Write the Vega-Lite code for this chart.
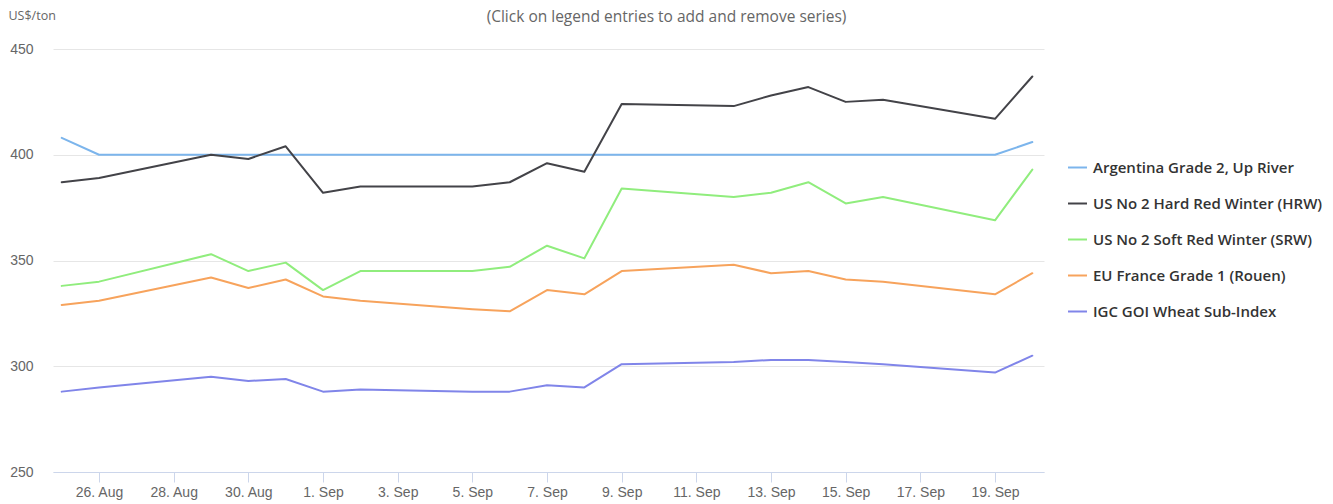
{
  "$schema": "https://vega.github.io/schema/vega-lite/v6.json",
  "width": 991,
  "height": 423,
  "autosize": {"type": "none"},
  "padding": {"left": 53, "top": 49, "right": 289, "bottom": 32},
  "background": "white",
  "config": {"view": {"stroke": null}, "font": "Liberation Sans"},
  "title": {
    "text": "(Click on legend entries to add and remove series)",
    "anchor": "middle",
    "dx": 118,
    "dy": 16,
    "offset": 0,
    "fontSize": 15.5,
    "fontWeight": "normal",
    "color": "#666666",
    "font": "Open Sans"
  },
  "data": {
    "values": [
      {"d": "2022-08-25", "s": "Argentina Grade 2, Up River", "v": 408},
      {"d": "2022-08-26", "s": "Argentina Grade 2, Up River", "v": 400},
      {"d": "2022-08-29", "s": "Argentina Grade 2, Up River", "v": 400},
      {"d": "2022-08-30", "s": "Argentina Grade 2, Up River", "v": 400},
      {"d": "2022-08-31", "s": "Argentina Grade 2, Up River", "v": 400},
      {"d": "2022-09-01", "s": "Argentina Grade 2, Up River", "v": 400},
      {"d": "2022-09-02", "s": "Argentina Grade 2, Up River", "v": 400},
      {"d": "2022-09-05", "s": "Argentina Grade 2, Up River", "v": 400},
      {"d": "2022-09-06", "s": "Argentina Grade 2, Up River", "v": 400},
      {"d": "2022-09-07", "s": "Argentina Grade 2, Up River", "v": 400},
      {"d": "2022-09-08", "s": "Argentina Grade 2, Up River", "v": 400},
      {"d": "2022-09-09", "s": "Argentina Grade 2, Up River", "v": 400},
      {"d": "2022-09-12", "s": "Argentina Grade 2, Up River", "v": 400},
      {"d": "2022-09-13", "s": "Argentina Grade 2, Up River", "v": 400},
      {"d": "2022-09-14", "s": "Argentina Grade 2, Up River", "v": 400},
      {"d": "2022-09-15", "s": "Argentina Grade 2, Up River", "v": 400},
      {"d": "2022-09-16", "s": "Argentina Grade 2, Up River", "v": 400},
      {"d": "2022-09-19", "s": "Argentina Grade 2, Up River", "v": 400},
      {"d": "2022-09-20", "s": "Argentina Grade 2, Up River", "v": 406},

      {"d": "2022-08-25", "s": "US No 2 Hard Red Winter (HRW)", "v": 387},
      {"d": "2022-08-26", "s": "US No 2 Hard Red Winter (HRW)", "v": 389},
      {"d": "2022-08-29", "s": "US No 2 Hard Red Winter (HRW)", "v": 400},
      {"d": "2022-08-30", "s": "US No 2 Hard Red Winter (HRW)", "v": 398},
      {"d": "2022-08-31", "s": "US No 2 Hard Red Winter (HRW)", "v": 404},
      {"d": "2022-09-01", "s": "US No 2 Hard Red Winter (HRW)", "v": 382},
      {"d": "2022-09-02", "s": "US No 2 Hard Red Winter (HRW)", "v": 385},
      {"d": "2022-09-05", "s": "US No 2 Hard Red Winter (HRW)", "v": 385},
      {"d": "2022-09-06", "s": "US No 2 Hard Red Winter (HRW)", "v": 387},
      {"d": "2022-09-07", "s": "US No 2 Hard Red Winter (HRW)", "v": 396},
      {"d": "2022-09-08", "s": "US No 2 Hard Red Winter (HRW)", "v": 392},
      {"d": "2022-09-09", "s": "US No 2 Hard Red Winter (HRW)", "v": 424},
      {"d": "2022-09-12", "s": "US No 2 Hard Red Winter (HRW)", "v": 423},
      {"d": "2022-09-13", "s": "US No 2 Hard Red Winter (HRW)", "v": 428},
      {"d": "2022-09-14", "s": "US No 2 Hard Red Winter (HRW)", "v": 432},
      {"d": "2022-09-15", "s": "US No 2 Hard Red Winter (HRW)", "v": 425},
      {"d": "2022-09-16", "s": "US No 2 Hard Red Winter (HRW)", "v": 426},
      {"d": "2022-09-19", "s": "US No 2 Hard Red Winter (HRW)", "v": 417},
      {"d": "2022-09-20", "s": "US No 2 Hard Red Winter (HRW)", "v": 437},

      {"d": "2022-08-25", "s": "US No 2 Soft Red Winter (SRW)", "v": 338},
      {"d": "2022-08-26", "s": "US No 2 Soft Red Winter (SRW)", "v": 340},
      {"d": "2022-08-29", "s": "US No 2 Soft Red Winter (SRW)", "v": 353},
      {"d": "2022-08-30", "s": "US No 2 Soft Red Winter (SRW)", "v": 345},
      {"d": "2022-08-31", "s": "US No 2 Soft Red Winter (SRW)", "v": 349},
      {"d": "2022-09-01", "s": "US No 2 Soft Red Winter (SRW)", "v": 336},
      {"d": "2022-09-02", "s": "US No 2 Soft Red Winter (SRW)", "v": 345},
      {"d": "2022-09-05", "s": "US No 2 Soft Red Winter (SRW)", "v": 345},
      {"d": "2022-09-06", "s": "US No 2 Soft Red Winter (SRW)", "v": 347},
      {"d": "2022-09-07", "s": "US No 2 Soft Red Winter (SRW)", "v": 357},
      {"d": "2022-09-08", "s": "US No 2 Soft Red Winter (SRW)", "v": 351},
      {"d": "2022-09-09", "s": "US No 2 Soft Red Winter (SRW)", "v": 384},
      {"d": "2022-09-12", "s": "US No 2 Soft Red Winter (SRW)", "v": 380},
      {"d": "2022-09-13", "s": "US No 2 Soft Red Winter (SRW)", "v": 382},
      {"d": "2022-09-14", "s": "US No 2 Soft Red Winter (SRW)", "v": 387},
      {"d": "2022-09-15", "s": "US No 2 Soft Red Winter (SRW)", "v": 377},
      {"d": "2022-09-16", "s": "US No 2 Soft Red Winter (SRW)", "v": 380},
      {"d": "2022-09-19", "s": "US No 2 Soft Red Winter (SRW)", "v": 369},
      {"d": "2022-09-20", "s": "US No 2 Soft Red Winter (SRW)", "v": 393},

      {"d": "2022-08-25", "s": "EU France Grade 1 (Rouen)", "v": 329},
      {"d": "2022-08-26", "s": "EU France Grade 1 (Rouen)", "v": 331},
      {"d": "2022-08-29", "s": "EU France Grade 1 (Rouen)", "v": 342},
      {"d": "2022-08-30", "s": "EU France Grade 1 (Rouen)", "v": 337},
      {"d": "2022-08-31", "s": "EU France Grade 1 (Rouen)", "v": 341},
      {"d": "2022-09-01", "s": "EU France Grade 1 (Rouen)", "v": 333},
      {"d": "2022-09-02", "s": "EU France Grade 1 (Rouen)", "v": 331},
      {"d": "2022-09-05", "s": "EU France Grade 1 (Rouen)", "v": 327},
      {"d": "2022-09-06", "s": "EU France Grade 1 (Rouen)", "v": 326},
      {"d": "2022-09-07", "s": "EU France Grade 1 (Rouen)", "v": 336},
      {"d": "2022-09-08", "s": "EU France Grade 1 (Rouen)", "v": 334},
      {"d": "2022-09-09", "s": "EU France Grade 1 (Rouen)", "v": 345},
      {"d": "2022-09-12", "s": "EU France Grade 1 (Rouen)", "v": 348},
      {"d": "2022-09-13", "s": "EU France Grade 1 (Rouen)", "v": 344},
      {"d": "2022-09-14", "s": "EU France Grade 1 (Rouen)", "v": 345},
      {"d": "2022-09-15", "s": "EU France Grade 1 (Rouen)", "v": 341},
      {"d": "2022-09-16", "s": "EU France Grade 1 (Rouen)", "v": 340},
      {"d": "2022-09-19", "s": "EU France Grade 1 (Rouen)", "v": 334},
      {"d": "2022-09-20", "s": "EU France Grade 1 (Rouen)", "v": 344},

      {"d": "2022-08-25", "s": "IGC GOI Wheat Sub-Index", "v": 288},
      {"d": "2022-08-26", "s": "IGC GOI Wheat Sub-Index", "v": 290},
      {"d": "2022-08-29", "s": "IGC GOI Wheat Sub-Index", "v": 295},
      {"d": "2022-08-30", "s": "IGC GOI Wheat Sub-Index", "v": 293},
      {"d": "2022-08-31", "s": "IGC GOI Wheat Sub-Index", "v": 294},
      {"d": "2022-09-01", "s": "IGC GOI Wheat Sub-Index", "v": 288},
      {"d": "2022-09-02", "s": "IGC GOI Wheat Sub-Index", "v": 289},
      {"d": "2022-09-05", "s": "IGC GOI Wheat Sub-Index", "v": 288},
      {"d": "2022-09-06", "s": "IGC GOI Wheat Sub-Index", "v": 288},
      {"d": "2022-09-07", "s": "IGC GOI Wheat Sub-Index", "v": 291},
      {"d": "2022-09-08", "s": "IGC GOI Wheat Sub-Index", "v": 290},
      {"d": "2022-09-09", "s": "IGC GOI Wheat Sub-Index", "v": 301},
      {"d": "2022-09-12", "s": "IGC GOI Wheat Sub-Index", "v": 302},
      {"d": "2022-09-13", "s": "IGC GOI Wheat Sub-Index", "v": 303},
      {"d": "2022-09-14", "s": "IGC GOI Wheat Sub-Index", "v": 303},
      {"d": "2022-09-15", "s": "IGC GOI Wheat Sub-Index", "v": 302},
      {"d": "2022-09-16", "s": "IGC GOI Wheat Sub-Index", "v": 301},
      {"d": "2022-09-19", "s": "IGC GOI Wheat Sub-Index", "v": 297},
      {"d": "2022-09-20", "s": "IGC GOI Wheat Sub-Index", "v": 305}
    ]
  },
  "mark": {"type": "line", "strokeWidth": 2, "strokeJoin": "round", "strokeCap": "round"},
  "encoding": {
    "x": {
      "field": "d",
      "type": "temporal",
      "scale": {
        "type": "utc",
        "domain": [
          {"year": 2022, "month": 8, "date": 24, "hours": 18, "minutes": 24, "utc": true},
          {"year": 2022, "month": 9, "date": 20, "hours": 7, "minutes": 30, "utc": true}
        ]
      },
      "axis": {
        "title": null,
        "format": "%-d. %b",
        "values": [
          {"year": 2022, "month": 8, "date": 26, "utc": true},
          {"year": 2022, "month": 8, "date": 28, "utc": true},
          {"year": 2022, "month": 8, "date": 30, "utc": true},
          {"year": 2022, "month": 9, "date": 1, "utc": true},
          {"year": 2022, "month": 9, "date": 3, "utc": true},
          {"year": 2022, "month": 9, "date": 5, "utc": true},
          {"year": 2022, "month": 9, "date": 7, "utc": true},
          {"year": 2022, "month": 9, "date": 9, "utc": true},
          {"year": 2022, "month": 9, "date": 11, "utc": true},
          {"year": 2022, "month": 9, "date": 13, "utc": true},
          {"year": 2022, "month": 9, "date": 15, "utc": true},
          {"year": 2022, "month": 9, "date": 17, "utc": true},
          {"year": 2022, "month": 9, "date": 19, "utc": true}
        ],
        "grid": false,
        "domainColor": "#ccd6eb",
        "tickColor": "#ccd6eb",
        "tickSize": 10,
        "labelFontSize": 14,
        "labelColor": "#666666",
        "labelPadding": 3,
        "labelFont": "Liberation Sans",
        "labelFlush": false,
        "labelOverlap": false
      }
    },
    "y": {
      "field": "v",
      "type": "quantitative",
      "scale": {"domain": [250, 450], "nice": false, "zero": false},
      "axis": {
        "values": [250, 300, 350, 400, 450],
        "domain": false,
        "ticks": false,
        "gridColor": "#e6e6e6",
        "labelFontSize": 14,
        "labelColor": "#666666",
        "labelPadding": 20,
        "labelFont": "Liberation Sans",
        "title": "US$/ton",
        "titleAngle": 0,
        "titleAlign": "left",
        "titleBaseline": "middle",
        "titleX": -45,
        "titleY": -34,
        "titleFontSize": 12.5,
        "titleFontWeight": "normal",
        "titleColor": "#666666",
        "titleFont": "Open Sans"
      }
    },
    "color": {
      "field": "s",
      "type": "nominal",
      "sort": null,
      "scale": {
        "domain": ["Argentina Grade 2, Up River", "US No 2 Hard Red Winter (HRW)", "US No 2 Soft Red Winter (SRW)", "EU France Grade 1 (Rouen)", "IGC GOI Wheat Sub-Index"],
        "range": ["#7cb5ec", "#434348", "#90ed7d", "#f7a35c", "#8085e9"]
      },
      "legend": {
        "title": null,
        "orient": "none",
        "legendX": 1014,
        "legendY": 108,
        "symbolType": "stroke",
        "symbolStrokeWidth": 2,
        "symbolSize": 360,
        "labelOffset": 5,
        "labelFont": "Open Sans",
        "labelFontSize": 15,
        "labelFontWeight": 600,
        "labelColor": "#333333",
        "labelLimit": 400,
        "rowPadding": 17
      }
    }
  }
}
